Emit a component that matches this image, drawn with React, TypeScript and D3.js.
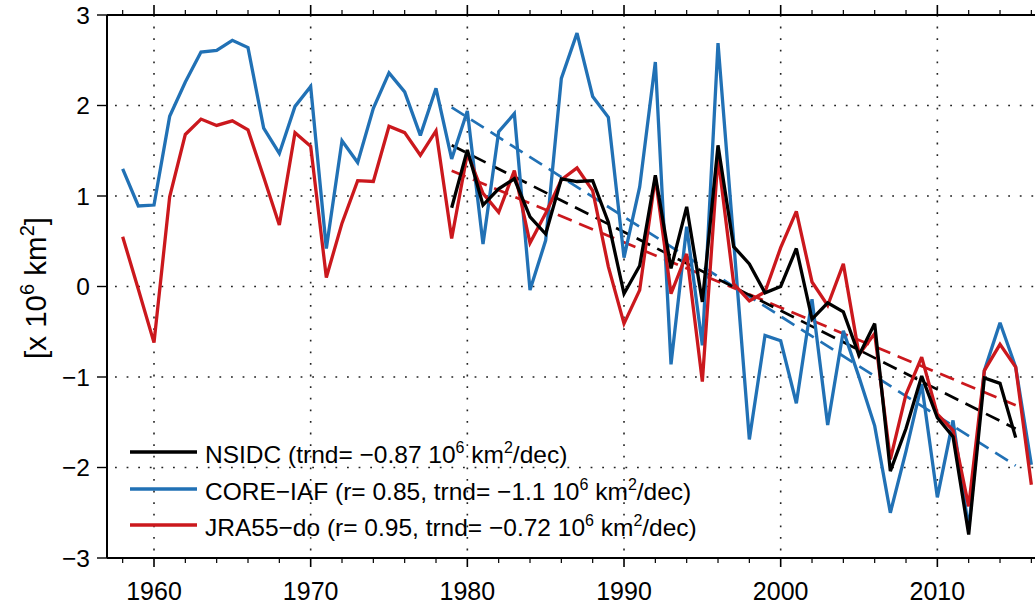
import React from "react";
import * as d3 from "d3";

// ---- data ----
const coreYears: number[] = d3.range(1958, 2017);
const coreIAF: number[] = [
  1.30, 0.89, 0.90, 1.88, 2.26, 2.59, 2.61, 2.72, 2.64, 1.75,
  1.47, 1.99, 2.21, 0.42, 1.61, 1.37, 1.97, 2.36, 2.15, 1.67,
  2.19, 1.41, 1.94, 0.47, 1.71, 1.91, -0.04, 0.51, 2.30, 2.80,
  2.10, 1.87, 0.32, 1.10, 2.48, -0.86, 0.66, -0.65, 2.69, 0.50,
  -1.69, -0.54, -0.60, -1.29, -0.14, -1.53, -0.49, -1.00, -1.54, -2.50,
  -1.82, -1.08, -2.33, -1.48, -2.68, -0.93, -0.40, -0.89, -1.97,
];
const jraYears: number[] = d3.range(1958, 2017);
const jra55do: number[] = [
  0.55, -0.03, -0.62, 0.99, 1.68, 1.85, 1.78, 1.83, 1.73, 1.21,
  0.68, 1.70, 1.55, 0.10, 0.70, 1.17, 1.16, 1.77, 1.70, 1.45,
  1.72, 0.53, 1.47, 1.03, 0.82, 1.28, 0.48, 0.81, 1.18, 1.31,
  1.06, 0.22, -0.41, -0.04, 1.21, -0.08, 0.36, -1.05, 1.43, 0.03,
  -0.16, -0.06, 0.43, 0.83, 0.05, -0.21, 0.25, -0.75, -0.52, -1.91,
  -1.19, -0.78, -1.41, -1.59, -2.43, -0.93, -0.64, -0.89, -2.19,
];
const nsidcYears: number[] = d3.range(1979, 2016);
const nsidc: number[] = [
  0.87, 1.51, 0.90, 1.08, 1.19, 0.77, 0.58, 1.19, 1.16, 1.17,
  0.71, -0.08, 0.23, 1.23, 0.20, 0.88, -0.17, 1.56, 0.44, 0.25,
  -0.07, 0.00, 0.42, -0.36, -0.18, -0.28, -0.76, -0.41, -2.04, -1.57,
  -0.99, -1.45, -1.66, -2.74, -1.01, -1.07, -1.67,
];
// trends (1979-2015): value at 1979 and slope per decade
const trendPeriod: number[] = [1979, 2015];
const trendStart: number[] = [1.56, 1.98, 1.28];
const trendSlope: number[] = [-0.87, -1.1, -0.72];

const seriesNames: string[] = ["NSIDC", "CORE-IAF", "JRA55-do"];
const seriesColors: string[] = ["#000000", "#2171b5", "#cb181d"];
const legendPrefix: string[] = [
  "NSIDC (trnd= \u22120.87 10",
  "CORE\u2212IAF (r= 0.85, trnd= \u22121.1 10",
  "JRA55\u2212do (r= 0.95, trnd= \u22120.72 10",
];

const xMajor: number[] = [1960, 1970, 1980, 1990, 2000, 2010];
const xMinor: number[] = d3.range(1958, 2017, 2);
const yTicks: number[] = [-3, -2, -1, 0, 1, 2, 3];
const yGrid: number[] = [-2, -1, 0, 1, 2];

const W = 1035;
const H = 607;
const FONT = "'Liberation Sans', Arial, Helvetica, sans-serif";

export default function App() {
  const left = 107;
  const top = 15;
  const bottom = 558;
  const pxPerYear = 15.667;
  const x = d3.scaleLinear().domain([1957, 2017]).range([left, left + 60 * pxPerYear]);
  const y = d3.scaleLinear().domain([-3, 3]).range([bottom, top]);
  const right = W + 10;

  const line = d3
    .line<[number, number]>()
    .x((d) => x(d[0]))
    .y((d) => y(d[1]));

  const datasets: [number, number][][] = [
    nsidcYears.map((yr, i) => [yr, nsidc[i]]),
    coreYears.map((yr, i) => [yr, coreIAF[i]]),
    jraYears.map((yr, i) => [yr, jra55do[i]]),
  ];
  const trends: [number, number][][] = trendStart.map((s, k) =>
    trendPeriod.map((yr) => [yr, s + (trendSlope[k] * (yr - trendPeriod[0])) / 10] as [number, number])
  );

  const legendY = [452, 489, 525];

  return (
    <svg
      width={W}
      height={H}
      style={{ position: "absolute", left: 0, top: 0, background: "#fff" }}
      fontFamily={FONT}
    >
      <rect x={0} y={0} width={W} height={H} fill="#fff" />
      {/* grid */}
      {xMajor.map((t) => (
        <line key={"gx" + t} x1={x(t)} x2={x(t)} y1={top} y2={bottom} stroke="#222" strokeWidth={1.6} strokeDasharray="1.8,9.8" />
      ))}
      {yGrid.map((t) => (
        <line key={"gy" + t} x1={left} x2={right} y1={y(t)} y2={y(t)} stroke="#222" strokeWidth={1.6} strokeDasharray="1.8,9.8" strokeDashoffset={-8} />
      ))}
      {/* trend lines */}
      {[1, 2, 0].map((k) => (
        <path key={"tr" + k} d={line(trends[k]) || ""} fill="none" stroke={seriesColors[k]} strokeWidth={2.7} strokeDasharray="15,8" />
      ))}
      {/* series */}
      {[1, 2, 0].map((k) => (
        <path key={"s" + k} d={line(datasets[k]) || ""} fill="none" stroke={seriesColors[k]} strokeWidth={3.3} strokeLinejoin="miter" strokeMiterlimit={3} />
      ))}
      {/* axes frame */}
      <line x1={left} x2={right} y1={top} y2={top} stroke="#000" strokeWidth={2} />
      <line x1={left} x2={right} y1={bottom} y2={bottom} stroke="#000" strokeWidth={2.2} />
      <line x1={left} x2={left} y1={top} y2={bottom} stroke="#000" strokeWidth={2} />
      {/* x ticks */}
      {xMinor.filter((t) => xMajor.indexOf(t) < 0).map((t) => (
        <g key={"mx" + t}>
          <line x1={x(t)} x2={x(t)} y1={bottom} y2={bottom + 5} stroke="#000" strokeWidth={1.2} />
          <line x1={x(t)} x2={x(t)} y1={top} y2={top - 5} stroke="#000" strokeWidth={1.2} />
        </g>
      ))}
      {xMajor.map((t) => (
        <g key={"Mx" + t}>
          <line x1={x(t)} x2={x(t)} y1={bottom} y2={bottom + 9} stroke="#000" strokeWidth={1.6} />
          <line x1={x(t)} x2={x(t)} y1={top} y2={top - 10} stroke="#000" strokeWidth={1.6} />
          <text x={x(t)} y={600} textAnchor="middle" fontSize={25} fill="#000">
            {t}
          </text>
        </g>
      ))}
      {/* y ticks */}
      {yTicks.map((t) => (
        <g key={"ty" + t}>
          <line x1={left - 10} x2={left} y1={y(t)} y2={y(t)} stroke="#000" strokeWidth={1.4} />
          <text x={90} y={y(t) + 8.5} textAnchor="end" fontSize={24.5} fill="#000">
            {t < 0 ? "\u2212" + Math.abs(t) : String(t)}
          </text>
        </g>
      ))}
      {/* y label */}
      <text transform={`translate(46,${288}) rotate(-90)`} textAnchor="middle" fontSize={29.5} fill="#000">
        [x 10
        <tspan dy={-12} fontSize={20}>6</tspan>
        <tspan dy={12}> km</tspan>
        <tspan dy={-12} fontSize={20}>2</tspan>
        <tspan dy={12}>]</tspan>
      </text>
      {/* legend */}
      {seriesNames.map((name, k) => (
        <g key={"lg" + name}>
          <line x1={130} x2={197} y1={legendY[k]} y2={legendY[k]} stroke={seriesColors[k]} strokeWidth={3.3} />
          <text x={205} y={legendY[k] + 11} fontSize={24.5} fill="#000">
            {legendPrefix[k]}
            <tspan dy={-10} fontSize={16}>6</tspan>
            <tspan dy={10}> km</tspan>
            <tspan dy={-10} fontSize={16}>2</tspan>
            <tspan dy={10}>/dec)</tspan>
          </text>
        </g>
      ))}
    </svg>
  );
}
